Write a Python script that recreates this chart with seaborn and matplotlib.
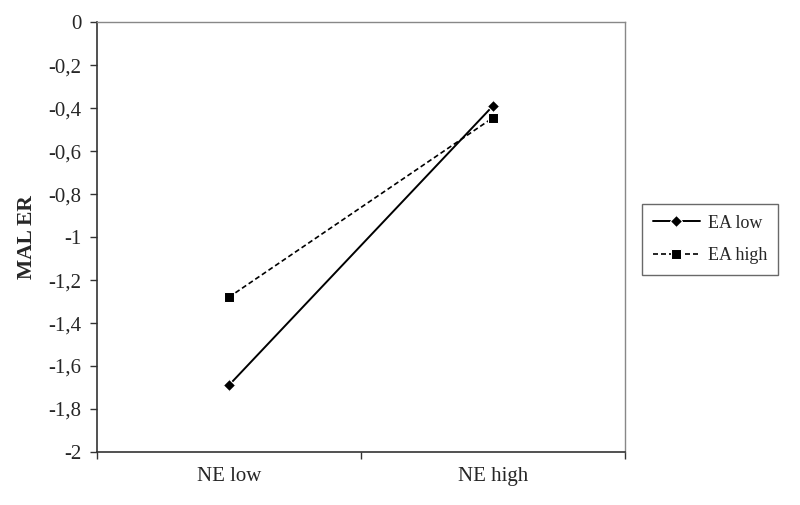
import numpy as np
import pandas as pd
import seaborn as sns
from matplotlib import pyplot as plt

categories = ["NE low", "NE high"]
ea_low = [-1.69, -0.39]
ea_high = [-1.28, -0.445]
y_ticks = [0, -0.2, -0.4, -0.6, -0.8, -1, -1.2, -1.4, -1.6, -1.8, -2]
y_tick_labels = ["0", "-0,2", "-0,4", "-0,6", "-0,8", "-1", "-1,2", "-1,4", "-1,6", "-1,8", "-2"]


def main():
    sns.set_theme(style="white")
    plt.rcParams["font.family"] = ["Liberation Serif", "DejaVu Serif"]

    df = pd.DataFrame({"NE": categories * 2,
                       "MAL ER": ea_low + ea_high,
                       "EA": ["EA low"] * 2 + ["EA high"] * 2})

    fig = plt.figure(figsize=(8, 5.05), dpi=100)
    ax = fig.add_axes([0.121, 0.105, 0.66, 0.851])

    sns.lineplot(data=df[df["EA"] == "EA low"], x="NE", y="MAL ER", label="EA low",
                 color="black", marker="D", markersize=6.5, linewidth=1.4, ax=ax)
    sns.lineplot(data=df[df["EA"] == "EA high"], x="NE", y="MAL ER", label="EA high",
                 color="black", marker="s", markersize=7, linewidth=1.2,
                 linestyle=(0, (3, 1.8)), ax=ax)

    ax.set_xlim(-0.5, 1.5)
    ax.set_ylim(-2, 0)
    ax.set_xticks([-0.5, 0.5, 1.5])
    ax.set_xticklabels([])
    ax.set_xticks([0, 1], labels=categories, minor=True)
    ax.tick_params(axis="x", which="minor", length=0, pad=11, labelsize=15)
    ax.tick_params(axis="x", which="major", direction="out", length=5, width=1, color="#333333")
    ax.set_yticks(y_ticks)
    ax.set_yticklabels(y_tick_labels)
    ax.tick_params(axis="y", direction="out", length=5, width=1, color="#333333",
                   labelsize=15, pad=6)
    ax.tick_params(left=True, bottom=True)

    ax.set_xlabel("")
    ax.set_ylabel("MAL ER", fontsize=15.5, fontweight="bold", labelpad=8)

    for side in ["left", "bottom"]:
        ax.spines[side].set_color("#333333")
        ax.spines[side].set_linewidth(1.2)
    for side in ["top", "right"]:
        ax.spines[side].set_color("#888888")
        ax.spines[side].set_linewidth(1.0)

    leg = ax.legend(loc="center left", bbox_to_anchor=(0.8025, 0.526),
                    bbox_transform=fig.transFigure, fontsize=13, frameon=True,
                    fancybox=False, edgecolor="#444444", handlelength=2.6,
                    borderpad=0.6, labelspacing=0.85, handletextpad=0.45,
                    borderaxespad=0)
    leg.get_frame().set_linewidth(1.0)

    fig.savefig("out.png", dpi=100)


if __name__ == "__main__":
    main()
